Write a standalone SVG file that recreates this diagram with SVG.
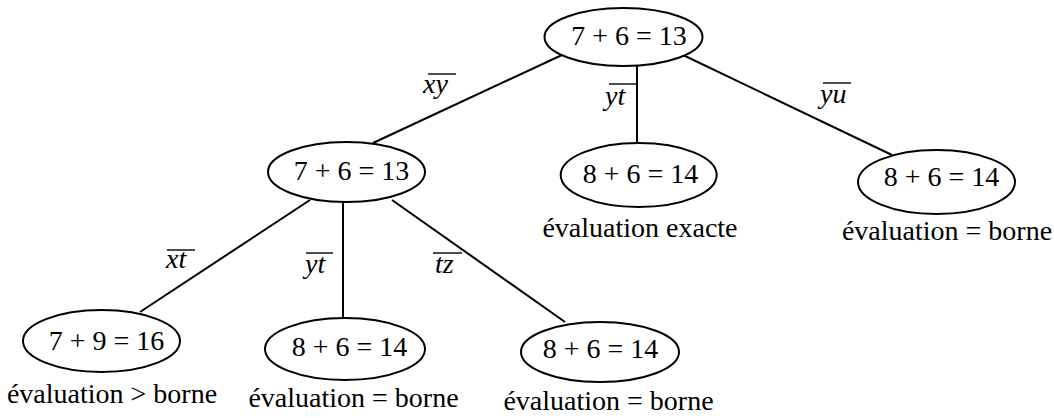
<svg xmlns="http://www.w3.org/2000/svg" width="1054" height="418" viewBox="0 0 1054 418">
<style>
.n{fill:#fff;stroke:#000;stroke-width:2}
.c{stroke:#000;stroke-width:2;fill:none}
.ov{stroke:#000;stroke-width:1.4}
.f{font-family:"Liberation Serif",serif;font-size:28px;fill:#000}
.m{text-anchor:middle}
.i{font-style:italic}
</style>
<rect width="1054" height="418" fill="#fff"/>
<g id="connectors">
<line class="c" x1="562" y1="55" x2="373" y2="143"/>
<line class="c" x1="637" y1="66" x2="637" y2="143"/>
<line class="c" x1="683" y1="55" x2="892" y2="155"/>
<line class="c" x1="310" y1="200" x2="140" y2="312"/>
<line class="c" x1="343" y1="202" x2="343" y2="318"/>
<line class="c" x1="392" y1="200" x2="565" y2="322"/>
</g>
<g id="edge-labels">
<text class="f i" x="423" y="93">xy</text><line class="ov" x1="428" y1="74" x2="456" y2="74"/>
<text class="f i" x="605" y="105">yt</text><line class="ov" x1="609" y1="84" x2="637" y2="84"/>
<text class="f i" x="820" y="103">yu</text><line class="ov" x1="823" y1="83" x2="851" y2="83"/>
<text class="f i" x="166" y="268">xt</text><line class="ov" x1="167" y1="250" x2="195" y2="250"/>
<text class="f i" x="305" y="273">yt</text><line class="ov" x1="306" y1="253" x2="333" y2="253"/>
<text class="f i" x="435" y="273">tz</text><line class="ov" x1="433" y1="253" x2="462" y2="253"/>
</g>
<g id="root">
<ellipse class="n" cx="623.5" cy="37" rx="79" ry="29"/>
<text class="f m" x="629" y="45">7 + 6 = 13</text>
</g>
<g id="n-xy">
<ellipse class="n" cx="346.5" cy="172" rx="78.5" ry="30"/>
<text class="f m" x="351.5" y="180">7 + 6 = 13</text>
</g>
<g id="n-yt">
<ellipse class="n" cx="638.7" cy="175" rx="78" ry="32"/>
<text class="f m" x="640.5" y="183">8 + 6 = 14</text>
<text class="f m" x="640" y="237">évaluation exacte</text>
</g>
<g id="n-yu">
<ellipse class="n" cx="936.5" cy="182" rx="78.5" ry="32"/>
<text class="f m" x="941.5" y="186">8 + 6 = 14</text>
<text class="f m" x="947" y="240">évaluation = borne</text>
</g>
<g id="n-xt">
<ellipse class="n" cx="101.5" cy="341" rx="78.5" ry="31"/>
<text class="f m" x="106.5" y="350">7 + 9 = 16</text>
<text class="f m" x="112" y="403">évaluation &gt; borne</text>
</g>
<g id="n-yt2">
<ellipse class="n" cx="345" cy="349" rx="80" ry="31"/>
<text class="f m" x="349.5" y="356">8 + 6 = 14</text>
<text class="f m" x="353.5" y="407">évaluation = borne</text>
</g>
<g id="n-tz">
<ellipse class="n" cx="600" cy="352" rx="79" ry="30"/>
<text class="f m" x="600.5" y="358">8 + 6 = 14</text>
<text class="f m" x="608.5" y="410">évaluation = borne</text>
</g>
</svg>
